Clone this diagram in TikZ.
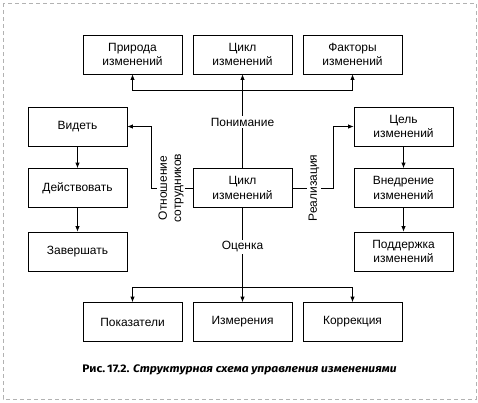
\documentclass[tikz,border=0pt]{standalone}
\usepackage{fontspec}
\setmainfont{Liberation Sans}
\newfontfamily\capfont[FakeStretch=1.1]{Fira Sans}
\usetikzlibrary{calc,arrows.meta}

\tikzset{
	blok/.style={draw, line width=0.8pt, minimum width=99bp, minimum height=39bp,
		inner sep=0pt, align=center, font=\fontsize{12}{14.3}\selectfont},
	svyaz/.style={line width=0.8pt},
	strel/.style={line width=0.8pt, -{Latex[length=5.5pt,width=4.5pt]}},
	metka/.style={fill=white, inner sep=1.5pt, align=center, font=\fontsize{12}{14.3}\selectfont}
}

\begin{document}
\begin{tikzpicture}[x=1bp,y=-1bp]
		\useasboundingbox (0,0) rectangle (478,402);
		\draw[gray!60, line width=1pt, dash pattern=on 4bp off 3bp] (3,3) rectangle (476,399);

		\node[blok] (priroda)  at (132.5,54.5) {Природа\\изменений};
		\node[blok] (ciklTop)  at (242.5,54.5) {Цикл\\изменений};
		\node[blok] (faktory)  at (352.5,54.5) {Факторы\\изменений};

		\node[blok] (videt)    at ( 77.5,126.5) {Видеть};
		\node[blok] (dejstv)   at ( 77.5,188)   {Действовать};
		\node[blok] (zavers)   at ( 77.5,251.5) {Завершать};

		\node[blok] (cikl)     at (242.5,188)   {Цикл\\изменений};

		\node[blok] (cel)      at (403.5,126.5) {Цель\\изменений};
		\node[blok] (vnedr)    at (403.5,188)   {Внедрение\\изменений};
		\node[blok] (podderzh) at (403.5,251.5) {Поддержка\\изменений};

		\node[blok] (pokaz)    at (132.5,322) {Показатели};
		\node[blok] (izmer)    at (242.5,322) {Измерения};
		\node[blok] (korr)     at (352.5,322) {Коррекция};

		\coordinate (verh) at (242.5,90);
		\coordinate (niz)  at (242.5,287);
		\coordinate (levo) at (151,188);
		\coordinate (pravo) at (333,188);

		\draw[strel] (cikl) -- (ciklTop);
		\draw[strel] (verh) -| (priroda);
		\draw[strel] (verh) -| (faktory);
		\node[metka] at (242.5,122) {Понимание};

		\draw[strel] (cikl) -- (izmer);
		\draw[strel] (niz) -| (pokaz);
		\draw[strel] (niz) -| (korr);
		\node[metka] at (242.5,247) {Оценка};

		\draw[strel] (cikl) -- (levo) |- (videt);
		\draw[strel] (cikl) -- (pravo) |- (cel);
		\node[metka, rotate=90] at (171,188) {Отношение\\сотрудников};
		\node[metka, rotate=90] at (314,188) {Реализация};

		\draw[strel] (videt) -- (dejstv);
		\draw[strel] (dejstv) -- (zavers);
		\draw[strel] (cel) -- (vnedr);
		\draw[strel] (vnedr) -- (podderzh);

		\node[font=\capfont\fontsize{11}{13}\selectfont\bfseries] (podpis) at (239.5,370)
			{Рис.\,17.2. \itshape Структурная схема управления изменениями};

	\end{tikzpicture}
\end{document}
